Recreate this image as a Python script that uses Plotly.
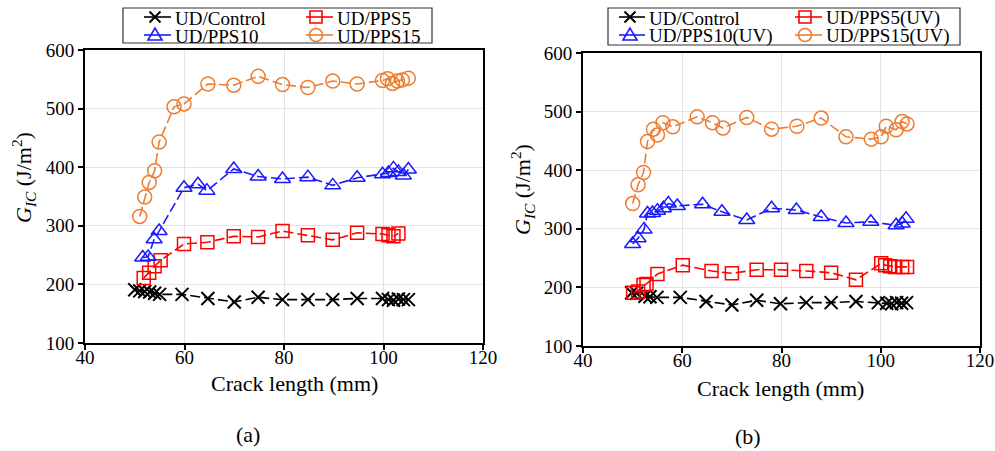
import plotly.graph_objects as go

W, H = 995, 451

# ---------------- data ----------------
ctrl_a_x = [50, 51, 52, 53, 54, 55, 59.5, 64.7, 70, 74.8, 79.7, 84.8, 89.8, 94.7, 99.8, 101, 102, 103, 104, 105]
ctrl_a_y = [191, 189, 188, 187, 185, 183, 183, 176, 170, 178, 174, 174, 174, 176, 176, 174, 173, 175, 174, 174]
pps5_a_x = [51.8, 52.9, 54.0, 55.2, 59.9, 64.6, 69.9, 74.8, 79.7, 84.8, 89.8, 94.7, 99.8, 101, 102, 103]
pps5_a_y = [211, 220, 231, 241, 269, 272, 282, 281, 291, 284, 276, 288, 286, 284, 282, 287]
pps10_a_x = [51.6, 52.7, 53.9, 54.9, 59.9, 62.7, 64.5, 69.9, 74.8, 79.7, 84.8, 89.8, 94.7, 99.8, 101, 102, 103, 104, 105]
pps10_a_y = [246, 247, 277, 291, 365, 371, 360, 397, 384, 380, 383, 369, 382, 388, 390, 398, 392, 386, 396]
pps15_a_x = [51.0, 52.0, 52.9, 54.0, 54.9, 57.9, 59.9, 64.7, 69.9, 74.8, 79.7, 84.8, 89.8, 94.7, 99.8, 100.8, 101.8, 102.8, 103.8, 105]
pps15_a_y = [316, 349, 374, 394, 443, 503, 508, 542, 540, 555, 541, 536, 547, 542, 548, 551, 543, 547, 549, 552]

ctrl_b_x = [49.8, 50.8, 52.5, 53.5, 54.9, 59.6, 64.8, 70, 75, 79.8, 85, 90, 95, 99.5, 101.2, 102.2, 103.2, 104.2, 105.2]
ctrl_b_y = [191, 190, 185, 184, 183, 183, 176, 170, 178, 172, 174, 174, 176, 174, 173, 172, 174, 173, 174]
pps5_b_x = [50.1, 51.1, 52.2, 52.8, 55.0, 60.1, 65.9, 70.0, 75.0, 79.9, 85.0, 90.0, 95.0, 100.1, 100.9, 101.9, 102.9, 104.3, 105.3]
pps5_b_y = [191, 193, 204, 206, 223, 238, 228, 224, 230, 230, 228, 225, 213, 241, 238, 236, 235, 235, 235]
pps10_b_x = [50.0, 51.1, 52.3, 53.0, 54.0, 55.0, 56.2, 57.2, 59.0, 64.1, 68.0, 73.0, 78.0, 83.0, 88.0, 93.0, 98.0, 103.1, 104.3, 105.1]
pps10_b_y = [274, 284, 299, 326, 327, 331, 335, 343, 339, 342, 329, 315, 335, 332, 320, 310, 312, 306, 309, 317]
pps15_b_x = [50.0, 51.1, 52.2, 53.0, 54.2, 55.0, 56.1, 58.1, 63.0, 66.1, 68.2, 73.0, 78.0, 83.1, 88.0, 93.0, 98.1, 100.1, 101.1, 103.1, 104.3, 105.3]
pps15_b_y = [343, 375, 396, 449, 470, 460, 481, 474, 491, 481, 472, 490, 470, 475, 489, 457, 453, 457, 475, 469, 483, 479]

names_a = ["UD/Control", "UD/PPS5", "UD/PPS10", "UD/PPS15"]
names_b = ["UD/Control", "UD/PPS5(UV)", "UD/PPS10(UV)", "UD/PPS15(UV)"]
x_ticks = [40, 60, 80, 100, 120]
y_ticks = [100, 200, 300, 400, 500, 600]

# ---------------- styles ----------------
BLACK, RED, BLUE, ORANGE = "#000000", "#ff0000", "#1a1aff", "#ed7d31"
colors = [BLACK, RED, BLUE, ORANGE]
symbols = ["x-thin", "square-open", "triangle-up-open", "circle-open"]
msizes = [13, 13, 14, 14]
DASH = "10px,4px"
SERIF = "'Liberation Serif', 'Times New Roman', Times, 'DejaVu Serif', serif"

fig = go.Figure()

series_a = [(ctrl_a_x, ctrl_a_y), (pps5_a_x, pps5_a_y), (pps10_a_x, pps10_a_y), (pps15_a_x, pps15_a_y)]
series_b = [(ctrl_b_x, ctrl_b_y), (pps5_b_x, pps5_b_y), (pps10_b_x, pps10_b_y), (pps15_b_x, pps15_b_y)]

for panel, (series, names) in enumerate([(series_a, names_a), (series_b, names_b)]):
    xa = "x" if panel == 0 else "x2"
    ya = "y" if panel == 0 else "y2"
    for i, ((xs, ys), nm) in enumerate(zip(series, names)):
        fig.add_trace(go.Scatter(
            x=xs, y=ys, name=nm, xaxis=xa, yaxis=ya, mode="lines+markers",
            line=dict(color=colors[i], width=1.6, dash=DASH),
            marker=dict(symbol=symbols[i], size=msizes[i], color=colors[i],
                        line=dict(color=colors[i], width=2.0 if i == 0 else 1.5)),
            showlegend=False,
        ))

def px(x):
    return x / W

def py(y):
    return 1 - y / H

axis_common = dict(
    showgrid=True, gridcolor="#e3e3e3", gridwidth=1,
    showline=True, linecolor="black", linewidth=2, mirror=True,
    ticks="outside", ticklen=5, tickwidth=1.5, tickcolor="black",
    tickfont=dict(family=SERIF, size=19, color="black"),
    zeroline=False, automargin=False,
)

fig.update_layout(
    template="none",
    width=W, height=H,
    margin=dict(l=0, r=0, t=0, b=0, pad=0),
    paper_bgcolor="white", plot_bgcolor="white",
    font=dict(family=SERIF, color="black"),
    xaxis=dict(domain=[px(85), px(483)], range=[40, 120], tickvals=x_ticks, anchor="y",
               ticklabelstandoff=-9, **axis_common),
    yaxis=dict(domain=[py(343), py(50)], range=[100, 600], tickvals=y_ticks, anchor="x", **axis_common),
    xaxis2=dict(domain=[px(583), px(980)], range=[40, 120], tickvals=x_ticks, anchor="y2",
                ticklabelstandoff=-9, **axis_common),
    yaxis2=dict(domain=[py(346), py(53)], range=[100, 600], tickvals=y_ticks, anchor="x2", **axis_common),
    showlegend=False,
)

annotations = []
shapes = []

def text_ann(x, y, text, size, angle=0, xanchor="center"):
    annotations.append(dict(
        x=px(x), y=py(y), xref="paper", yref="paper", text=text, showarrow=False,
        textangle=angle, xanchor=xanchor, yanchor="middle",
        font=dict(family=SERIF, size=size, color="black"),
    ))

# axis titles and panel labels
text_ann(294, 383, "Crack length (mm)", 22)
text_ann(780, 388, "Crack length (mm)", 22)
ytitle = "<i>G</i><sub><i>IC</i></sub> (J/m<sup>2</sup>)"
text_ann(23, 178, ytitle, 22, angle=-90)
text_ann(522, 190, ytitle, 22, angle=-90)
text_ann(248, 434, "(a)", 22)
text_ann(748, 436, "(b)", 22)

# ---------------- legends (drawn as text + decorations) ----------------
def marker_shape(kind, cx, cy, color):
    lw = 1.6
    if kind == 0:  # x
        d = 5.5
        for (x0, y0, x1, y1) in [(cx - d, cy - d, cx + d, cy + d), (cx - d, cy + d, cx + d, cy - d)]:
            shapes.append(dict(type="line", xref="paper", yref="paper",
                               x0=px(x0), y0=py(y0), x1=px(x1), y1=py(y1),
                               line=dict(color=color, width=2)))
    elif kind == 1:  # square
        d = 6
        shapes.append(dict(type="rect", xref="paper", yref="paper",
                           x0=px(cx - d), y0=py(cy + d), x1=px(cx + d), y1=py(cy - d),
                           line=dict(color=color, width=lw), fillcolor="rgba(0,0,0,0)"))
    elif kind == 2:  # triangle
        pts = [(cx - 7, cy + 5), (cx + 7, cy + 5), (cx, cy - 7)]
        path = "M {} {} L {} {} L {} {} Z".format(*[v for p in pts for v in (px(p[0]), py(p[1]))])
        shapes.append(dict(type="path", xref="paper", yref="paper", path=path,
                           line=dict(color=color, width=lw), fillcolor="rgba(0,0,0,0)"))
    else:  # circle
        d = 6.5
        shapes.append(dict(type="circle", xref="paper", yref="paper",
                           x0=px(cx - d), y0=py(cy + d), x1=px(cx + d), y1=py(cy - d),
                           line=dict(color=color, width=lw), fillcolor="rgba(0,0,0,0)"))

def legend_box(x0, y0, x1, y1, col_x, rows_y, names):
    shapes.append(dict(type="rect", xref="paper", yref="paper",
                       x0=px(x0), y0=py(y1), x1=px(x1), y1=py(y0),
                       line=dict(color="#333333", width=1.2), fillcolor="white", layer="above"))
    order = [(0, 0, 0), (1, 1, 0), (2, 0, 1), (3, 1, 1)]  # (series, column, row)
    for s, c, r in order:
        lx0, mx, lx1 = col_x[c]
        y = rows_y[r]
        shapes.append(dict(type="line", xref="paper", yref="paper",
                           x0=px(lx0), y0=py(y), x1=px(lx1), y1=py(y),
                           line=dict(color=colors[s], width=1.6)))
        marker_shape(s, mx, y, colors[s])
        text_ann(lx1 + 2, y + 1, names[s], 19, xanchor="left")

legend_box(123, 8, 432, 43, [(144, 155, 171), (306, 316, 333)], [17, 35], names_a)
legend_box(608, 8, 960, 45, [(619, 630, 645), (795, 805, 822)], [17, 35], names_b)

fig.update_layout(annotations=annotations, shapes=shapes)
fig.write_html(
    "out.html",
    config={"displayModeBar": False},
    post_script="document.body.style.margin='0';document.body.style.padding='0';",
)
